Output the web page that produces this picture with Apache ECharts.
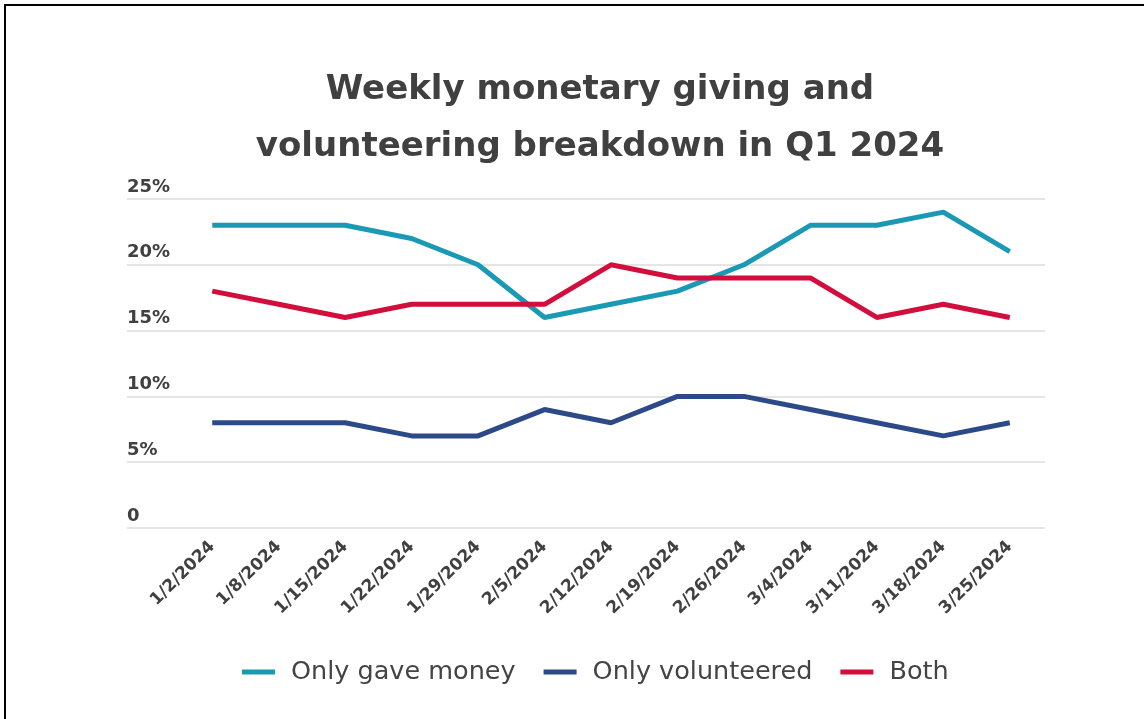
<!DOCTYPE html>
<html>
<head>
<meta charset="utf-8">
<script src="https://cdn.jsdelivr.net/npm/echarts@6/dist/echarts.min.js"></script>
<style>
html,body{margin:0;padding:0;background:#fff;}
#main{width:1144px;height:719px;}
</style>
</head>
<body>
<div id="main"></div>
<script>
var categories = ['1/2/2024','1/8/2024','1/15/2024','1/22/2024','1/29/2024','2/5/2024','2/12/2024','2/19/2024','2/26/2024','3/4/2024','3/11/2024','3/18/2024','3/25/2024'];
var onlyMoney = [23,23,23,22,20,16,17,18,20,23,23,24,21];
var onlyVolunteered = [8,8,8,7,7,9,8,10,10,9,8,7,8];
var both = [18,17,16,17,17,17,20,19,19,19,16,17,16];
var yMin = 0, yMax = 25, yStep = 5;
var titleText = 'Weekly monetary giving and\nvolunteering breakdown in Q1 2024';

var font = '"DejaVu Sans", "Open Sans", sans-serif';
var chart = echarts.init(document.getElementById('main'));
chart.setOption({
  backgroundColor: '#fff',
  animation: false,
  title: {
    text: titleText,
    left: 595, top: 57, textAlign: 'center',
    textStyle: {fontFamily: font, fontSize: 34, fontWeight: 'bold', color: '#404040', lineHeight: 57}
  },
  graphic: [{type: 'rect', shape: {x: 5, y: 5, width: 1160, height: 730}, style: {fill: 'none', stroke: '#000', lineWidth: 2}, silent: true}],
  legend: {
    bottom: 29, left: 237, width: 900,
    itemWidth: 33, itemHeight: 5, itemGap: 28, icon: 'rect',
    textStyle: {fontFamily: font, fontSize: 25.5, color: '#444', padding: [0,0,0,11]},
    data: ['Only gave money','Only volunteered','Both']
  },
  grid: [
    {left: 127, right: 99, top: 199, bottom: 191},
    {left: 179, right: 101, top: 199, bottom: 191}
  ],
  xAxis: [
    {gridIndex: 0, type: 'category', data: categories, show: false},
    {gridIndex: 1, type: 'category', data: categories, boundaryGap: true,
     axisLine: {show: false}, axisTick: {show: false},
     axisLabel: {rotate: 45, margin: 16, interval: 0, fontFamily: font, fontSize: 17, fontWeight: 'bold', color: '#404040'}}
  ],
  yAxis: [
    {gridIndex: 0, type: 'value', min: yMin, max: yMax, interval: yStep,
     axisLine: {show: false}, axisTick: {show: false},
     splitLine: {lineStyle: {color: '#dcdcdc', width: 1.5}},
     axisLabel: {inside: true, margin: 0, verticalAlign: 'bottom', padding: [0,0,3,0],
       fontFamily: font, fontSize: 18, fontWeight: 'bold', color: '#404040',
       formatter: function(v){ return v === 0 ? '0' : v + '%'; }}},
    {gridIndex: 1, type: 'value', min: yMin, max: yMax, interval: yStep, show: false, splitLine: {show: false}}
  ],
  series: [
    {name: 'Only gave money', type: 'line', xAxisIndex: 1, yAxisIndex: 1, data: onlyMoney, symbol: 'none', lineStyle: {width: 5, color: '#1a99b4'}, itemStyle: {color: '#1a99b4'}},
    {name: 'Only volunteered', type: 'line', xAxisIndex: 1, yAxisIndex: 1, data: onlyVolunteered, symbol: 'none', lineStyle: {width: 5, color: '#2d4a88'}, itemStyle: {color: '#2d4a88'}},
    {name: 'Both', type: 'line', xAxisIndex: 1, yAxisIndex: 1, data: both, symbol: 'none', lineStyle: {width: 5, color: '#d20f3c'}, itemStyle: {color: '#d20f3c'}}
  ]
});
</script>
</body>
</html>
